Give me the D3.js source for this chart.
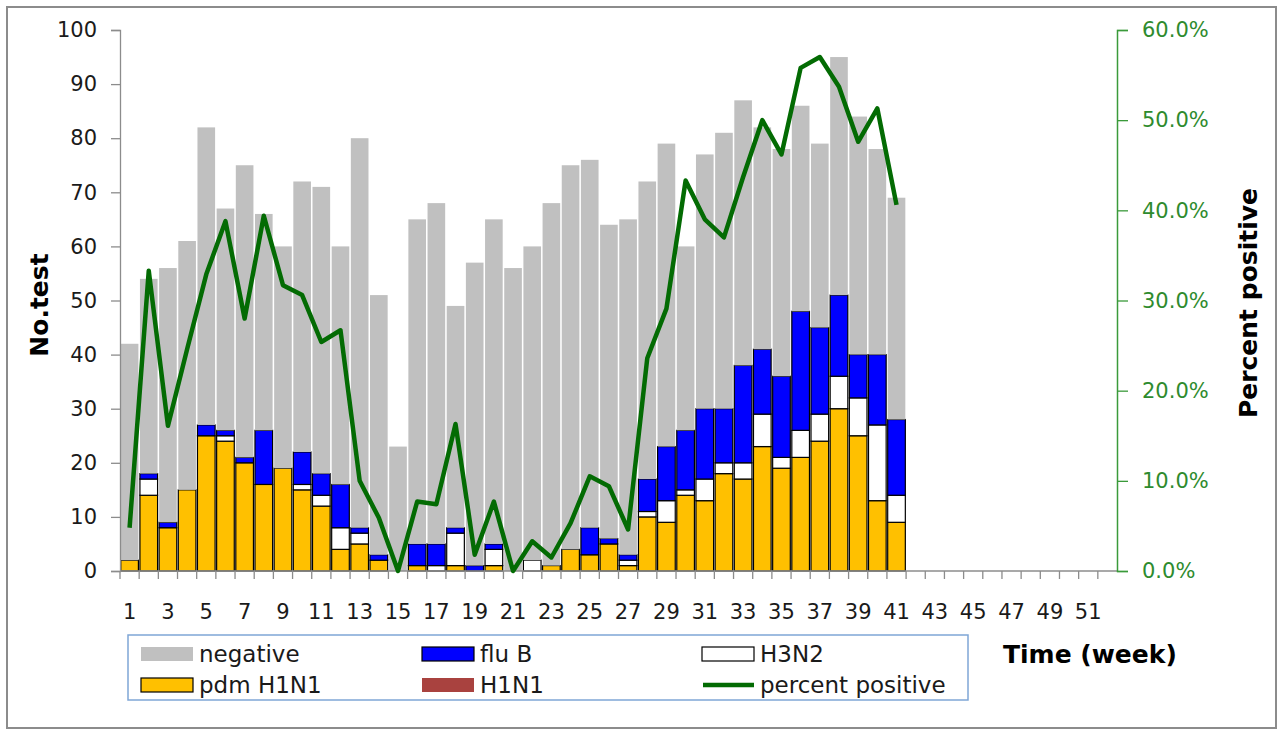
<!DOCTYPE html>
<html>
<head>
<meta charset="utf-8">
<script src="https://cdn.jsdelivr.net/npm/d3@7"></script>
<style>
  html, body { margin: 0; padding: 0; background: #fff; }
  svg { display: block; }
  text { font-family: "DejaVu Sans", sans-serif; }
</style>
</head>
<body>
<svg id="chart" width="1283" height="731"></svg>
<script>
// ---------- DATA ----------
const weeks = [1,2,3,4,5,6,7,8,9,10,11,12,13,14,15,16,17,18,19,20,21,22,23,24,25,26,
               27,28,29,30,31,32,33,34,35,36,37,38,39,40,41,42,43,44,45,46,47,48,49,50,51,52];
const xTickLabels = [1,3,5,7,9,11,13,15,17,19,21,23,25,27,29,31,33,35,37,39,41,43,45,47,49,51];
const leftTicks = [0,10,20,30,40,50,60,70,80,90,100];
const rightTicks = [0,10,20,30,40,50,60];

const pdmH1N1 = [2,14,8,15,25,24,20,16,19,15,12,4,5,2,0,1,0,1,0,1,0,0,1,4,3,5,1,10,9,14,13,18,17,23,19,21,24,30,25,13,9];
const h1n1    = [0,0,0,0,0,0,0,0,0,0,0,0,0,0,0,0,0,0,0,0,0,0,0,0,0,0,0,0,0,0,0,0,0,0,0,0,0,0,0,0,0];
const h3n2    = [0,3,0,0,0,1,0,0,0,1,2,4,2,0,0,0,1,6,0,3,0,2,0,0,0,0,1,1,4,1,4,2,3,6,2,5,5,6,7,14,5];
const fluB    = [0,1,1,0,2,1,1,10,0,6,4,8,1,1,0,4,4,1,1,1,0,0,0,0,5,1,1,6,10,11,13,10,18,12,15,22,16,15,8,13,14];
const negative= [40,36,47,46,55,41,54,40,41,50,53,44,72,48,23,60,63,41,56,60,56,58,67,71,68,58,62,55,56,34,47,51,49,41,42,38,34,44,44,38,41];
const percentPositive = [4.8,33.3,16.1,24.6,32.9,38.8,28.0,39.4,31.7,30.6,25.4,26.7,10.0,5.9,0.0,7.7,7.4,16.3,1.8,7.7,0.0,
                         3.3,1.5,5.3,10.5,9.4,4.6,23.6,29.1,43.3,39.0,37.0,43.7,50.0,46.2,55.8,57.0,53.7,47.6,51.3,40.6];

const seriesKeys = ["pdm", "h1n1", "h3n2", "fluB", "negative"];
const seriesNames = { pdm: "pdm H1N1", h1n1: "H1N1", h3n2: "H3N2", fluB: "flu B", negative: "negative" };
const colors = { pdm: "#ffc000", h1n1: "#a9423f", h3n2: "#ffffff", fluB: "#0000ff", negative: "#c0c0c0" };

const rows = pdmH1N1.map((v, i) => ({
  week: weeks[i], pdm: v, h1n1: h1n1[i], h3n2: h3n2[i], fluB: fluB[i], negative: negative[i], pct: percentPositive[i]
}));

// ---------- LAYOUT ----------
const svg = d3.select("#chart");
const L = 120, R = 1117, T = 30, B = 571;

// outer frame
svg.append("rect").attr("x", 7).attr("y", 7).attr("width", 1269).attr("height", 721)
  .attr("fill", "#fff").attr("stroke", "#8c8c8c").attr("stroke-width", 2);

const x = d3.scaleBand().domain(weeks).range([L, R]).paddingInner(0.08).paddingOuter(0.04);
const step = x.step();
const y = d3.scaleLinear().domain([0, 100]).range([B, T]);
const yR = d3.scaleLinear().domain([0, 60]).range([B, T]);

// ---------- BARS ----------
const stack = d3.stack().keys(seriesKeys);
const stacked = stack(rows);

const g = svg.append("g");
stacked.forEach(layer => {
  const k = layer.key;
  g.append("g").selectAll("rect").data(layer.filter(d => d[1] - d[0] > 0)).join("rect")
    .attr("x", d => x(d.data.week))
    .attr("width", x.bandwidth())
    .attr("y", d => y(d[1]))
    .attr("height", d => y(d[0]) - y(d[1]))
    .attr("fill", colors[k])
    .attr("stroke", k === "negative" ? "none" : "#000")
    .attr("stroke-width", k === "negative" ? 0 : 1.2);
});

// ---------- AXES ----------
// left axis
const leftAxis = d3.axisLeft(y).tickValues(leftTicks).tickSize(9).tickPadding(14);
const gl = svg.append("g").attr("transform", `translate(${L},0)`).call(leftAxis);
gl.select(".domain").attr("stroke", "#8c8c8c").attr("stroke-width", 1.3);
gl.selectAll(".tick line").attr("stroke", "#8c8c8c").attr("stroke-width", 1.3);
gl.selectAll(".tick text").attr("font-size", 21).attr("fill", "#1a1a1a").attr("font-family", "DejaVu Sans");

// bottom axis: ticks at category boundaries
const gb = svg.append("g");
gb.append("line").attr("x1", L).attr("x2", R).attr("y1", B).attr("y2", B)
  .attr("stroke", "#8c8c8c").attr("stroke-width", 1.3);
gb.selectAll("line.tk").data(weeks).join("line").attr("class", "tk")
  .attr("x1", d => x(d) - step * x.paddingInner() / 2).attr("x2", d => x(d) - step * x.paddingInner() / 2)
  .attr("y1", B).attr("y2", B + 8).attr("stroke", "#8c8c8c").attr("stroke-width", 1.3);
gb.selectAll("text").data(xTickLabels).join("text")
  .attr("x", d => x(d) + x.bandwidth() / 2).attr("y", 619)
  .attr("text-anchor", "middle").attr("font-size", 21).attr("fill", "#1a1a1a")
  .text(d => d);

// right axis
const rightAxis = d3.axisRight(yR).tickValues(rightTicks).tickSize(11).tickPadding(14)
  .tickFormat(d => d3.format(".1f")(d) + "%");
const gr = svg.append("g").attr("transform", `translate(${R},0)`).call(rightAxis);
gr.select(".domain").attr("stroke", "#3a9a3a").attr("stroke-width", 1.5);
gr.selectAll(".tick line").attr("stroke", "#3a9a3a").attr("stroke-width", 1.3);
gr.selectAll(".tick text").attr("font-size", 21).attr("fill", "#2e8b2e").attr("font-family", "DejaVu Sans");

// ---------- LINE ----------
const line = d3.line()
  .x(d => x(d.week) + x.bandwidth() / 2)
  .y(d => yR(d.pct));
svg.append("path").datum(rows).attr("d", line)
  .attr("fill", "none").attr("stroke", "#036b03").attr("stroke-width", 4.5)
  .attr("stroke-linejoin", "round").attr("stroke-linecap", "butt");

// ---------- TITLES ----------
svg.append("text").attr("transform", "translate(48,305) rotate(-90)")
  .attr("text-anchor", "middle").attr("font-size", 25).attr("font-weight", "bold").text("No.test");
svg.append("text").attr("transform", "translate(1257,303) rotate(-90)")
  .attr("text-anchor", "middle").attr("font-size", 25).attr("font-weight", "bold").text("Percent positive");
svg.append("text").attr("x", 1003).attr("y", 663)
  .attr("font-size", 25).attr("font-weight", "bold").text("Time (week)");

// ---------- LEGEND ----------
const lg = svg.append("g");
lg.append("rect").attr("x", 128).attr("y", 635).attr("width", 840).attr("height", 65)
  .attr("fill", "#fff").attr("stroke", "#7fa6d6").attr("stroke-width", 1.5);
const legendItems = [
  { key: "negative", col: 0, row: 0 },
  { key: "fluB", col: 1, row: 0 },
  { key: "h3n2", col: 2, row: 0 },
  { key: "pdm", col: 0, row: 1 },
  { key: "h1n1", col: 1, row: 1 },
  { key: "line", col: 2, row: 1 }
];
const colX = [141, 422, 702];
const rowY = [654, 685];
legendItems.forEach(it => {
  const sx = colX[it.col], cy = rowY[it.row];
  if (it.key === "line") {
    lg.append("line").attr("x1", sx + 1).attr("x2", sx + 52).attr("y1", cy).attr("y2", cy)
      .attr("stroke", "#036b03").attr("stroke-width", 4.5);
  } else {
    lg.append("rect").attr("x", sx).attr("y", cy - 7).attr("width", 52).attr("height", 14)
      .attr("fill", colors[it.key])
      .attr("stroke", (it.key === "negative" || it.key === "h1n1") ? "none" : "#000")
      .attr("stroke-width", 1.2);
  }
  lg.append("text").attr("x", sx + 58).attr("y", cy + 8).attr("font-size", 23).attr("fill", "#1a1a1a")
    .text(it.key === "line" ? "percent positive" : seriesNames[it.key]);
});
</script>
</body>
</html>
